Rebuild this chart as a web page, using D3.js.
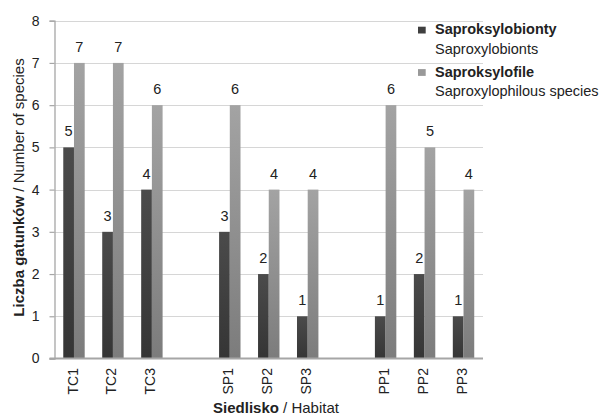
<!DOCTYPE html>
<html><head><meta charset="utf-8">
<script src="https://cdn.jsdelivr.net/npm/d3@7"></script>
<style>
body{margin:0;background:#fff;}
text{font-family:"Liberation Sans",Arial,sans-serif;}
</style></head>
<body><svg id="c" width="606" height="416"></svg>
<script>
const categories = ["TC1","TC2","TC3","SP1","SP2","SP3","PP1","PP2","PP3"];
const groups = ["TC","TC","TC","SP","SP","SP","PP","PP","PP"];
const saproksylobionty = [5,3,4,3,2,1,1,2,1];
const saproksylofile = [7,7,6,6,4,4,6,5,4];
const yTicks = [0,1,2,3,4,5,6,7,8];
const seriesNames = [["Saproksylobionty","Saproxylobionts"],["Saproksylofile","Saproxylophilous species"]];

// build slot domain with gaps between groups
const slots = [];
categories.forEach((c,i)=>{ if(i>0 && groups[i]!==groups[i-1]) slots.push("_gap"+i); slots.push(c); });

const svg = d3.select("#c");
const mL = 54.5, mR = 483, mT = 20.7, mB = 358.5;
const x = d3.scaleBand().domain(slots).range([mL,mR]);
const y = d3.scaleLinear().domain([0,8]).range([mB,mT]);
const bw = x.bandwidth()*0.275;

const defs = svg.append("defs");
function grad(id,c1,c2){
  const g = defs.append("linearGradient").attr("id",id).attr("x1",0).attr("y1",0).attr("x2",0).attr("y2",1);
  g.append("stop").attr("offset","0%").attr("stop-color",c1);
  g.append("stop").attr("offset","100%").attr("stop-color",c2);
}
grad("gd","#4b4b4b","#353535");
grad("gl","#a3a3a3","#7c7c7c");

// gridlines
svg.append("g").selectAll("line").data(yTicks.filter(d=>d>0)).join("line")
  .attr("x1",mL).attr("x2",mR).attr("y1",d=>Math.round(y(d))+0.5).attr("y2",d=>Math.round(y(d))+0.5)
  .attr("stroke","#d6d6d6").attr("stroke-width",1.2);

// y axis
const ya = d3.axisLeft(y).tickValues(yTicks).tickSize(5).tickPadding(10);
const yg = svg.append("g").attr("transform",`translate(${mL},0)`).call(ya);
yg.select(".domain").attr("stroke","#a6a6a6").attr("stroke-width",1.3);
yg.selectAll(".tick line").attr("stroke","#a6a6a6").attr("stroke-width",1.2);
yg.selectAll(".tick text").attr("font-size",14).attr("fill","#222").style("font-family","Liberation Sans, Arial, sans-serif");

// bars
const data = categories.map((c,i)=>({c,a:saproksylobionty[i],b:saproksylofile[i]}));
const center = d=> x(d.c)+x.bandwidth()/2;
const bars = svg.append("g");
bars.selectAll("rect.a").data(data).join("rect").attr("class","a")
  .attr("x",d=>center(d)-bw).attr("width",bw).attr("y",d=>y(d.a)).attr("height",d=>y(0)-y(d.a)).attr("fill","url(#gd)");
bars.selectAll("rect.b").data(data).join("rect").attr("class","b")
  .attr("x",d=>center(d)).attr("width",bw).attr("y",d=>y(d.b)).attr("height",d=>y(0)-y(d.b)).attr("fill","url(#gl)");

// value labels
const lab = svg.append("g").attr("font-size",14.5).attr("fill","#222").attr("text-anchor","middle");
lab.selectAll("text.a").data(data).join("text").attr("class","a")
  .attr("x",d=>center(d)-bw/2).attr("y",d=>y(d.a)-11).text(d=>d.a);
lab.selectAll("text.b").data(data).join("text").attr("class","b")
  .attr("x",d=>center(d)+bw/2).attr("y",d=>y(d.b)-11).text(d=>d.b);

// x axis
const xa = d3.axisBottom(x).tickSize(0).tickFormat(d=>d.startsWith("_")?"":d);
const xg = svg.append("g").attr("transform",`translate(0,${mB})`).call(xa);
xg.select(".domain").remove();
svg.append("line").attr("x1",mL-5).attr("x2",mR).attr("y1",mB).attr("y2",mB).attr("stroke","#a6a6a6").attr("stroke-width",2);
xg.selectAll(".tick text").attr("font-size",14).attr("fill","#222")
  .style("font-family","Liberation Sans, Arial, sans-serif")
  .attr("text-anchor","end").attr("transform","rotate(-90)").attr("x",-9.5).attr("y",-1.5).attr("dy","0.36em");

// axis titles
const xt = svg.append("text").attr("x",276).attr("y",413).attr("text-anchor","middle").attr("font-size",15).attr("fill","#222");
xt.append("tspan").attr("font-weight","bold").text("Siedlisko");
xt.append("tspan").text(" / Habitat");
const yt = svg.append("text").attr("transform",`translate(24,187.5) rotate(-90)`).attr("text-anchor","middle").attr("font-size",15).attr("fill","#222");
yt.append("tspan").attr("font-weight","bold").text("Liczba gatunków");
yt.append("tspan").text(" / Number of species");

// legend
const lg = svg.append("g").attr("font-size",14.5).attr("fill","#222");
const lcol = ["#3f3f3f","#999999"];
seriesNames.forEach((s,i)=>{
  const yy = 34.3 + i*42.4;
  lg.append("rect").attr("x",418).attr("y",yy-7.6).attr("width",7.7).attr("height",6.8).attr("fill",lcol[i]);
  lg.append("text").attr("x",435).attr("y",yy).attr("font-weight","bold").text(s[0]);
  lg.append("text").attr("x",435).attr("y",yy+19.5).text(s[1]);
});
</script></body></html>
